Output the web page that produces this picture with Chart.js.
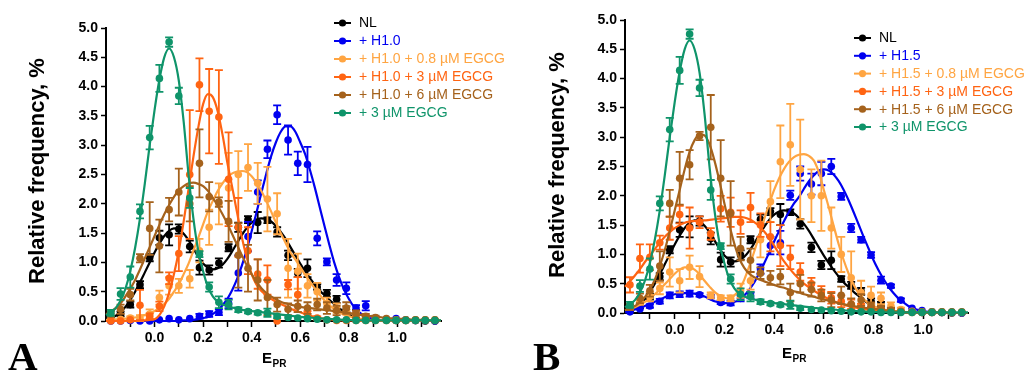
<!DOCTYPE html>
<html>
<head>
<meta charset="utf-8">
<script src="https://cdn.jsdelivr.net/npm/chart.js@4.4.1/dist/chart.umd.min.js"></script>
<style>
html,body{margin:0;padding:0;background:#fff;overflow:hidden;}
#wrap{position:relative;width:1026px;height:373px;}
.pane{position:absolute;top:0;width:513px;height:373px;}
</style>
</head>
<body>
<div id="wrap">
<div class="pane" style="left:0"><canvas id="chartA" width="513" height="373"></canvas></div>
<div class="pane" style="left:513px"><canvas id="chartB" width="513" height="373"></canvas></div>
</div>
<script>
// ---------- categories / axes ----------
const binE = [-0.18,-0.14,-0.10,-0.06,-0.02,0.02,0.06,0.10,0.145,0.185,
0.225,0.265,0.305,0.345,0.385,0.425,0.465,0.505,0.55,0.59,
0.63,0.67,0.71,0.75,0.79,0.83,0.87,0.91,0.955,0.995,
1.035,1.075,1.115,1.155];
const curveE = [-0.20,-0.18,-0.16,-0.14,-0.12,-0.10,-0.08,-0.06,-0.04,-0.02,
0.00,0.02,0.04,0.06,0.08,0.10,0.12,0.14,0.16,0.18,
0.20,0.22,0.24,0.26,0.28,0.30,0.32,0.34,0.36,0.38,
0.40,0.42,0.44,0.46,0.48,0.50,0.52,0.54,0.56,0.58,
0.60,0.62,0.64,0.66,0.68,0.70,0.72,0.74,0.76,0.78,
0.80,0.82,0.84,0.86,0.88,0.90,0.92,0.94,0.96,0.98,
1.00,1.02,1.04,1.06,1.08,1.10,1.12,1.14,1.16,1.18];
const xTickValues = [-0.1,0.0,0.1,0.2,0.3,0.4,0.5,0.6,0.7,0.8,0.9,1.0,1.1];
const xTickLabels = ['','0.0','','0.2','','0.4','','0.6','','0.8','','1.0',''];
const yTickLabels = ['0.0','0.5','1.0','1.5','2.0','2.5','3.0','3.5','4.0','4.5','5.0'];
const legendA = ['NL','+ H1.0','+ H1.0 + 0.8 µM EGCG','+ H1.0 + 3 µM EGCG','+ H1.0 + 6 µM EGCG','+ 3 µM EGCG'];
const legendB = ['NL','+ H1.5','+ H1.5 + 0.8 µM EGCG','+ H1.5 + 3 µM EGCG','+ H1.5 + 6 µM EGCG','+ 3 µM EGCG'];
const seriesColors = ['#000000','#0000f0','#ffa542','#ff6412','#a5621c','#0f946a'];

// ---------- shared controls ----------
const nlPts = [0.03,0.12,0.28,0.62,1.08,1.42,1.47,1.57,1.27,0.91, 0.87,0.99,1.25,1.60,1.73,1.68,1.72,1.52,1.12,0.82, 0.90,0.58,0.47,0.37,0.20,0.15,0.06,0.03,0.02,0.01, 0.01,0.01,0.00,0.00];
const nlErr = [0.02,0.04,0.05,0.06,0.06,0.12,0.18,0.08,0.10,0.12, 0.08,0.08,0.06,0.08,0.06,0.18,0.05,0.08,0.08,0.07, 0.15,0.05,0.06,0.06,0.05,0.04,0.03,0.02,0.01,0.01, 0.01,0.01,0.01,0.01];
const nlFit = [0.02,0.05,0.09,0.15,0.24,0.36,0.50,0.66,0.83,1.00,
1.17,1.32,1.45,1.54,1.58,1.56,1.49,1.38,1.24,1.10,
0.98,0.91,0.88,0.90,0.96,1.06,1.19,1.33,1.47,1.59,
1.68,1.73,1.75,1.74,1.70,1.62,1.52,1.40,1.26,1.12,
0.98,0.85,0.73,0.62,0.52,0.44,0.36,0.29,0.22,0.16,
0.11,0.07,0.04,0.02,0.01,0,0,0,0,0,
0,0,0,0,0,0,0,0,0,0];
const egcgPts = [0.14,0.46,0.75,1.87,3.13,4.14,4.76,3.84,2.10,1.14, 0.58,0.32,0.28,0.19,0.16,0.14,0.14,0.08,0.06,0.05, 0.04,0.03,0.02,0.02,0.02,0.01,0.01,0.01,0.01,0.01, 0.01,0.01,0.01,0.01];
const egcgErr = [0.05,0.10,0.18,0.12,0.20,0.23,0.08,0.14,0.17,0.05, 0.08,0.10,0.08,0.04,0.03,0.03,0.07,0.03,0.02,0.02, 0.02,0.01,0.01,0.01,0.01,0.01,0.01,0.01,0.01,0.01, 0.01,0.01,0.01,0.01];
const egcgFit = [0.10,0.15,0.22,0.35,0.55,0.85,1.25,1.75,2.35,3.00,
3.60,4.12,4.50,4.65,4.50,4.10,3.40,2.50,1.75,1.20,
0.85,0.58,0.42,0.33,0.28,0.25,0.23,0.21,0.19,0.18,
0.17,0.16,0.15,0.14,0.13,0.12,0.11,0.10,0.09,0.08,
0.07,0.065,0.06,0.05,0.045,0.04,0.035,0.03,0.025,0.02,
0.02,0.015,0.015,0.01,0.01,0.01,0.01,0.01,0.01,0.01,
0.01,0.01,0.01,0.01,0.01,0.01,0.01,0.01,0.01,0.01];

// ---------- panel A ----------
const h10Pts = [0.00,0.00,0.01,0.00,0.00,0.02,0.04,0.02,0.04,0.08, 0.12,0.15,0.30,0.82,1.44,2.20,2.93,3.52,3.09,2.69, 2.67,1.41,1.01,0.70,0.56,0.22,0.26,0.05,0.03,0.04, 0.02,0.01,0.01,0.00];
const h10Err = [0.01,0.01,0.01,0.01,0.01,0.01,0.01,0.01,0.02,0.04, 0.05,0.05,0.08,0.30,0.25,0.20,0.15,0.16,0.25,0.20, 0.30,0.12,0.06,0.10,0.10,0.05,0.08,0.03,0.02,0.02, 0.01,0.01,0.01,0.01];
const h10Fit = [0,0,0,0,0,0,0,0,0,0,
0,0,0,0,0,0,0.01,0.01,0.02,0.03,
0.05,0.07,0.12,0.18,0.27,0.38,0.53,0.72,0.95,1.22,
1.53,1.85,2.19,2.51,2.81,3.05,3.23,3.32,3.32,3.23,
3.05,2.85,2.58,2.28,1.95,1.62,1.30,1.00,0.75,0.54,
0.38,0.25,0.16,0.10,0.06,0.035,0.02,0.01,0,0,
0,0,0,0,0,0,0,0,0,0];
const h10e08Pts = [0.02,0.03,0.05,0.05,0.12,0.40,0.60,0.60,0.72,1.20, 1.60,2.00,2.27,2.50,2.62,2.35,2.08,1.83,0.90,0.85, 0.60,0.50,0.30,0.22,0.18,0.10,0.05,0.03,0.02,0.02, 0.02,0.02,0.02,0.02];
const h10e08Err = [0.02,0.02,0.03,0.05,0.08,0.12,0.15,0.12,0.15,0.20, 0.30,0.35,0.60,0.40,0.40,0.35,0.55,0.35,0.50,0.30, 0.20,0.15,0.10,0.08,0.07,0.05,0.03,0.02,0.02,0.02, 0.01,0.01,0.01,0.01];
const h10e08Fit = [0.02,0.02,0.03,0.03,0.04,0.05,0.06,0.08,0.10,0.13,
0.17,0.22,0.29,0.38,0.50,0.63,0.80,0.98,1.20,1.42,
1.65,1.87,2.05,2.22,2.35,2.45,2.52,2.55,2.56,2.54,
2.47,2.36,2.22,2.05,1.87,1.68,1.50,1.33,1.17,1.05,
0.92,0.79,0.67,0.56,0.45,0.35,0.27,0.20,0.15,0.11,
0.08,0.06,0.04,0.03,0.02,0.015,0.01,0.01,0.01,0.01,
0.01,0.01,0.01,0.01,0.01,0,0,0,0,0];
const h10e3Pts = [0.00,0.00,0.02,0.27,0.08,0.25,0.73,1.15,2.50,4.03, 3.58,3.48,2.42,1.60,1.20,0.80,0.70,0.00,0.62,0.45, 0.12,0.05,0.02,0.01,0.01,0.01,0.01,0.01,0.01,0.01, 0.01,0.01,0.01,0.01];
const h10e3Err = [0.01,0.01,0.02,0.26,0.05,0.08,0.10,0.30,1.10,0.45, 0.72,0.80,0.80,0.50,0.40,0.25,0.25,0.02,0.08,0.30, 0.05,0.03,0.02,0.01,0.01,0.01,0.01,0.01,0.01,0.01, 0.01,0.01,0.01,0.01];
const h10e3Fit = [0,0,0,0,0,0,0,0.01,0.01,0.02,
0.03,0.10,0.25,0.48,0.80,1.20,1.70,2.25,2.80,3.30,
3.70,3.87,3.82,3.58,3.18,2.70,2.28,1.85,1.42,1.08,
0.80,0.62,0.51,0.44,0.38,0.33,0.29,0.25,0.21,0.18,
0.15,0.12,0.09,0.07,0.05,0.04,0.03,0.02,0.015,0.01,
0.01,0.01,0,0,0,0,0,0,0,0,
0,0,0,0,0,0,0,0,0,0];
const h10e6Pts = [0.12,0.20,0.45,1.07,1.58,1.28,1.90,2.20,2.00,2.69, 2.12,2.03,1.70,1.12,0.90,0.70,0.40,0.28,0.20,0.25, 0.22,0.28,0.22,0.18,0.22,0.12,0.08,0.06,0.04,0.02, 0.02,0.02,0.02,0.02];
const h10e6Err = [0.05,0.08,0.10,0.07,0.45,0.45,0.20,0.40,0.30,0.58, 0.25,0.08,0.35,0.55,0.40,0.35,0.30,0.12,0.10,0.10, 0.10,0.10,0.10,0.08,0.10,0.06,0.04,0.03,0.02,0.02, 0.02,0.02,0.02,0.02];
const h10e6Fit = [0.12,0.16,0.22,0.30,0.42,0.55,0.70,0.88,1.07,1.26,
1.45,1.64,1.82,1.98,2.12,2.23,2.30,2.35,2.36,2.34,
2.30,2.22,2.10,1.97,1.82,1.66,1.48,1.30,1.12,0.95,
0.80,0.67,0.56,0.48,0.42,0.37,0.33,0.30,0.28,0.26,
0.24,0.23,0.22,0.21,0.20,0.19,0.18,0.17,0.16,0.15,
0.14,0.12,0.11,0.10,0.09,0.08,0.07,0.06,0.05,0.045,
0.04,0.035,0.03,0.025,0.02,0.02,0.015,0.01,0.01,0.01];

// ---------- panel B ----------
const h15Pts = [0.02,0.07,0.12,0.20,0.30,0.32,0.33,0.31,0.28,0.18, 0.17,0.25,0.30,0.75,1.15,1.20,2.01,2.38,2.20,2.38, 2.50,1.99,1.45,1.25,0.99,0.56,0.46,0.22,0.08,0.04, 0.02,0.01,0.01,0.00];
const h15Err = [0.01,0.02,0.03,0.04,0.05,0.05,0.05,0.03,0.03,0.03, 0.04,0.05,0.05,0.08,0.15,0.20,0.08,0.12,0.18,0.20, 0.13,0.06,0.07,0.05,0.05,0.06,0.03,0.03,0.02,0.01, 0.01,0.01,0.01,0.01];
const h15Fit = [0.01,0.03,0.06,0.09,0.12,0.15,0.19,0.23,0.27,0.30,
0.32,0.33,0.34,0.34,0.33,0.31,0.28,0.24,0.20,0.18,
0.17,0.17,0.19,0.22,0.30,0.40,0.52,0.68,0.85,1.03,
1.22,1.40,1.57,1.73,1.87,1.98,2.12,2.25,2.35,2.43,
2.45,2.43,2.36,2.25,2.10,1.92,1.72,1.51,1.30,1.10,
0.90,0.73,0.58,0.45,0.34,0.25,0.18,0.12,0.08,0.05,
0.03,0.02,0.01,0,0,0,0,0,0,0];
const h15e08Pts = [0.10,0.20,0.28,0.42,0.70,0.55,0.78,0.62,0.30,0.26, 0.25,0.38,0.55,1.25,1.90,2.58,2.87,2.45,2.00,2.00, 1.45,1.00,0.60,0.35,0.30,0.25,0.12,0.06,0.03,0.02, 0.02,0.02,0.01,0.01];
const h15e08Err = [0.05,0.06,0.08,0.10,0.25,0.20,0.20,0.18,0.05,0.04, 0.05,0.12,0.15,0.30,0.35,0.62,0.70,0.85,0.45,0.60, 0.35,0.30,0.45,0.20,0.15,0.10,0.06,0.03,0.02,0.02, 0.02,0.01,0.01,0.01];
const h15e08Fit = [0.05,0.07,0.10,0.14,0.19,0.25,0.32,0.40,0.49,0.58,
0.67,0.74,0.78,0.78,0.74,0.66,0.55,0.45,0.36,0.30,
0.26,0.25,0.30,0.40,0.57,0.80,1.05,1.32,1.60,1.86,
2.10,2.30,2.46,2.58,2.66,2.70,2.71,2.68,2.60,2.40,
2.10,1.80,1.48,1.17,0.90,0.67,0.48,0.34,0.24,0.17,
0.12,0.08,0.06,0.04,0.03,0.02,0.01,0.01,0.01,0.01,
0.01,0.01,0.01,0,0,0,0,0,0,0];
const h15e3Pts = [0.48,0.93,0.95,1.20,1.45,1.68,1.45,1.55,1.35,1.78, 1.72,1.55,1.80,1.50,1.30,1.15,0.95,0.70,0.50,0.36, 0.26,0.20,0.15,0.10,0.07,0.05,0.03,0.02,0.01,0.01, 0.01,0.01,0.01,0.01];
const h15e3Err = [0.13,0.24,0.22,0.12,0.20,0.15,0.35,0.10,0.10,0.22, 0.25,0.20,0.25,0.20,0.25,0.35,0.20,0.15,0.10,0.10, 0.10,0.10,0.08,0.06,0.04,0.03,0.02,0.02,0.01,0.01, 0.01,0.01,0.01,0.01];
const h15e3Fit = [0.45,0.54,0.64,0.75,0.87,0.98,1.09,1.20,1.30,1.38,
1.45,1.50,1.54,1.56,1.57,1.58,1.58,1.59,1.60,1.61,
1.62,1.63,1.64,1.64,1.63,1.60,1.55,1.48,1.39,1.28,
1.15,1.01,0.88,0.77,0.67,0.58,0.50,0.44,0.38,0.33,
0.28,0.24,0.20,0.17,0.14,0.12,0.10,0.08,0.065,0.05,
0.04,0.03,0.025,0.02,0.015,0.01,0.01,0.01,0.005,0.005,
0,0,0,0,0,0,0,0,0,0];
const h15e6Pts = [0.10,0.25,0.38,0.80,1.87,2.30,2.53,3.02,3.17,2.30, 1.70,1.10,0.90,0.68,0.60,0.62,0.35,0.50,0.40,0.30, 0.22,0.30,0.15,0.22,0.12,0.08,0.05,0.03,0.02,0.02, 0.02,0.02,0.02,0.02];
const h15e6Err = [0.05,0.08,0.10,0.25,0.23,0.45,0.25,0.07,0.55,0.65, 0.55,0.20,0.20,0.10,0.12,0.13,0.15,0.15,0.12,0.10, 0.12,0.15,0.10,0.10,0.06,0.04,0.03,0.02,0.02,0.02, 0.02,0.02,0.02,0.02];
const h15e6Fit = [0.05,0.08,0.12,0.18,0.27,0.40,0.57,0.80,1.07,1.40,
1.75,2.10,2.45,2.75,2.95,3.05,3.03,2.88,2.60,2.25,
1.87,1.50,1.18,0.93,0.77,0.67,0.61,0.57,0.54,0.51,
0.48,0.45,0.43,0.40,0.37,0.35,0.32,0.30,0.28,0.25,
0.23,0.21,0.19,0.17,0.15,0.13,0.12,0.10,0.09,0.08,
0.07,0.06,0.05,0.04,0.03,0.025,0.02,0.015,0.01,0.01,
0.01,0.01,0.01,0.01,0.005,0.005,0,0,0,0];

// ---------- drawing ----------
const SANS = "'Liberation Sans', Arial, Helvetica, sans-serif";
Chart.defaults.font.family = SANS;

const errorBarPlugin = {
  id: 'errbars',
  beforeDatasetDraw(chart, args) {
    const ds = chart.data.datasets[args.index];
    if (!ds.errors) return;
    const ctx = chart.ctx, ys = chart.scales.y;
    ctx.save();
    ctx.strokeStyle = ds.borderColor;
    ctx.lineWidth = 1.8;
    args.meta.data.forEach((el, i) => {
      const e = ds.errors[i];
      if (!e) return;
      const v = ds.data[i].y;
      const yt = ys.getPixelForValue(v + e);
      const yb = ys.getPixelForValue(Math.max(0, v - e));
      if (Math.abs(yb - yt) < 3) return;
      const x = el.x;
      ctx.beginPath();
      ctx.moveTo(x, yt); ctx.lineTo(x, yb);
      ctx.moveTo(x - 4, yt); ctx.lineTo(x + 4, yt);
      ctx.moveTo(x - 4, yb); ctx.lineTo(x + 4, yb);
      ctx.stroke();
    });
    ctx.restore();
  }
};

function makeDecor(cfg) {
  return {
    id: 'decor',
    afterDraw(chart) {
      const ctx = chart.ctx;
      ctx.save();
      // legend
      cfg.legend.forEach((text, i) => {
        const y = cfg.legY0 + i * cfg.legDy;
        const x0 = cfg.legX0;
        const c = seriesColors[i];
        ctx.strokeStyle = c; ctx.lineWidth = 2;
        ctx.beginPath(); ctx.moveTo(x0, y); ctx.lineTo(x0 + 17, y); ctx.stroke();
        ctx.fillStyle = c;
        ctx.beginPath(); ctx.arc(x0 + 8.5, y, 3.6, 0, Math.PI * 2); ctx.fill();
        ctx.font = '14px ' + SANS;
        ctx.textAlign = 'left'; ctx.textBaseline = 'middle';
        ctx.fillText(text, x0 + 25, y + 0.5);
      });
      // y title
      ctx.fillStyle = '#000';
      ctx.save();
      ctx.translate(cfg.yTitleX, cfg.yTitleY);
      ctx.rotate(-Math.PI / 2);
      ctx.font = 'bold 22px ' + SANS;
      ctx.textAlign = 'center'; ctx.textBaseline = 'middle';
      ctx.fillText('Relative frequency, %', 0, 0);
      ctx.restore();
      // x title E with subscript PR
      ctx.textAlign = 'left'; ctx.textBaseline = 'alphabetic';
      ctx.font = 'bold 15px ' + SANS;
      ctx.fillText('E', cfg.xTitleX, cfg.xTitleY);
      const w = ctx.measureText('E').width;
      ctx.font = 'bold 10px ' + SANS;
      ctx.fillText('PR', cfg.xTitleX + w + 0.5, cfg.xTitleY + 4);
      // panel letter
      ctx.font = "bold 41px 'Liberation Serif', 'Times New Roman', serif";
      ctx.fillText(cfg.letter, cfg.letterX, cfg.letterY);
      ctx.restore();
    }
  };
}

function buildDatasets(series) {
  const out = [];
  const n = series.length;
  series.forEach((s, k) => {
    const rank = n - 1 - k;
    out.push({
      label: s.name + ' fit',
      data: curveE.map((x, i) => ({x: x, y: s.fit[i]})),
      showLine: true, borderColor: seriesColors[k], borderWidth: 2.2,
      pointRadius: 0, cubicInterpolationMode: 'monotone', fill: false,
      order: rank * 2 + 1, clip: false
    });
    out.push({
      label: s.name,
      data: binE.map((x, i) => ({x: x, y: s.pts[i]})),
      showLine: false, backgroundColor: seriesColors[k], borderColor: seriesColors[k],
      pointRadius: 3.8, pointBorderWidth: 0, errors: s.err,
      order: rank * 2, clip: false
    });
  });
  return out;
}

function makeChart(id, series, cfg) {
  return new Chart(document.getElementById(id), {
    type: 'scatter',
    data: { datasets: buildDatasets(series) },
    options: {
      responsive: false, animation: false, events: [],
      layout: { padding: { left: 0, right: cfg.padRight, top: cfg.padTop, bottom: 0 } },
      plugins: { legend: { display: false }, tooltip: { enabled: false } },
      scales: {
        x: {
          type: 'linear', min: -0.2, max: 1.18,
          afterBuildTicks: (s) => { s.ticks = xTickValues.map(v => ({value: v})); },
          afterFit: (s) => { s.height = cfg.xAxisH; },
          ticks: { autoSkip: false, maxRotation: 0, padding: 3, color: '#000',
                   font: { size: 14, weight: 'bold' },
                   callback: (v, i) => xTickLabels[i] },
          grid: { drawOnChartArea: false, drawTicks: true, tickLength: 6, tickColor: '#000', tickWidth: 1.5 },
          border: { display: true, color: '#000', width: 2 }
        },
        y: {
          type: 'linear', min: 0, max: 5,
          afterFit: (s) => { s.width = cfg.yAxisW; },
          ticks: { stepSize: 0.5, padding: 3, color: '#000', font: { size: 14, weight: 'bold' },
                   callback: (v, i) => yTickLabels[i] },
          grid: { drawOnChartArea: false, drawTicks: true, tickLength: 5, tickColor: '#000', tickWidth: 1.5 },
          border: { display: true, color: '#000', width: 2 }
        }
      }
    },
    plugins: [errorBarPlugin, makeDecor(cfg)]
  });
}

const seriesA = [
  {name: legendA[0], pts: nlPts, err: nlErr, fit: nlFit},
  {name: legendA[1], pts: h10Pts, err: h10Err, fit: h10Fit},
  {name: legendA[2], pts: h10e08Pts, err: h10e08Err, fit: h10e08Fit},
  {name: legendA[3], pts: h10e3Pts, err: h10e3Err, fit: h10e3Fit},
  {name: legendA[4], pts: h10e6Pts, err: h10e6Err, fit: h10e6Fit},
  {name: legendA[5], pts: egcgPts, err: egcgErr, fit: egcgFit}
];
const seriesB = [
  {name: legendB[0], pts: nlPts, err: nlErr, fit: nlFit},
  {name: legendB[1], pts: h15Pts, err: h15Err, fit: h15Fit},
  {name: legendB[2], pts: h15e08Pts, err: h15e08Err, fit: h15e08Fit},
  {name: legendB[3], pts: h15e3Pts, err: h15e3Err, fit: h15e3Fit},
  {name: legendB[4], pts: h15e6Pts, err: h15e6Err, fit: h15e6Fit},
  {name: legendB[5], pts: egcgPts, err: egcgErr, fit: egcgFit}
];

makeChart('chartA', seriesA, {
  padRight: 72, padTop: 28, xAxisH: 52, yAxisW: 106,
  legend: legendA, legX0: 334, legY0: 23, legDy: 18,
  yTitleX: 38, yTitleY: 171, xTitleX: 262, xTitleY: 363,
  letter: 'A', letterX: 8, letterY: 370
});
makeChart('chartB', seriesB, {
  padRight: 58, padTop: 20, xAxisH: 60, yAxisW: 112,
  legend: legendB, legX0: 341, legY0: 38, legDy: 17.8,
  yTitleX: 45, yTitleY: 165, xTitleX: 269, xTitleY: 358,
  letter: 'B', letterX: 20, letterY: 370
});
</script>
</body>
</html>
